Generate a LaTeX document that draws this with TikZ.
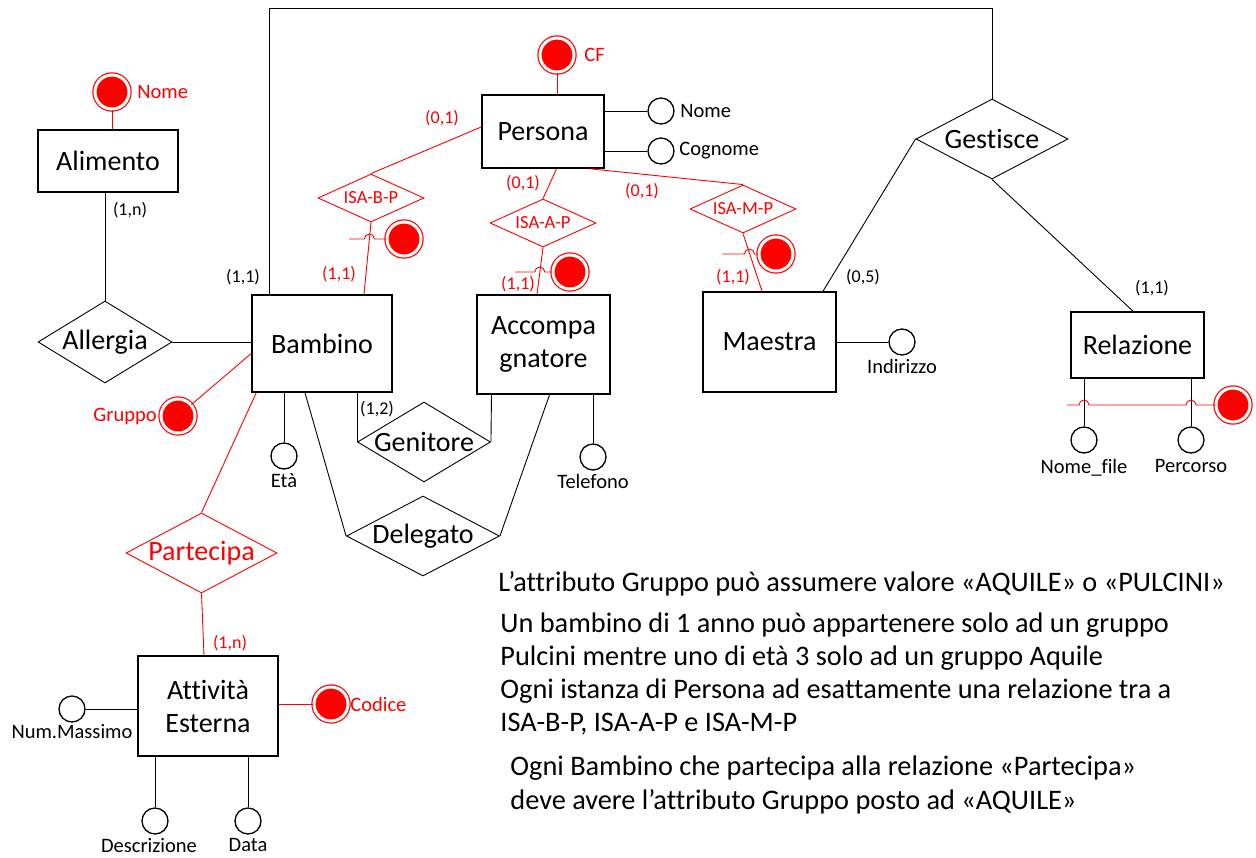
\documentclass[tikz,border=0pt]{standalone}
\usepackage{fontspec}
\setmainfont{Carlito}[Ligatures=NoCommon]
\usetikzlibrary{shapes.geometric}
\usetikzlibrary{positioning}
\newcommand{\bigFont}{\fontsize{28}{33}\selectfont}
\newcommand{\noteFont}{\fontsize{28.3}{33}\selectfont}
\newcommand{\attrFont}{\fontsize{20.5}{24}\selectfont}
\newcommand{\cardFont}{\fontsize{18}{21}\selectfont}
\newcommand{\isaFont}{\fontsize{18.5}{22}\selectfont}
\tikzset{
  entity/.style={draw, line width=1.6pt, font=\bigFont, align=center, inner sep=0pt},
  rel/.style={diamond, draw, inner sep=0pt, label={[font=\bigFont]center:#1}},
  redRel/.style={diamond, draw=red, inner sep=0pt, label={[font=\bigFont, text=red]center:#1}},
  isaRel/.style={diamond, draw=red, inner sep=0pt, minimum width=106pt, minimum height=48pt,
    label={[font=\isaFont, text=red]center:#1}},
  attr/.style={circle, draw, line width=1.3pt, minimum size=26pt, inner sep=0pt},
  idAttr/.style={circle, draw=red, fill=red, double=white, double distance=3pt,
    line width=1.2pt, minimum size=34pt, inner sep=0pt},
  idLabel/.style={text=red, xshift=#1},
  card/.style={font=\cardFont, inner sep=0pt},
  note/.style={font=\noteFont, align=left, anchor=north west, inner sep=0pt}
}

\begin{document}
\begin{tikzpicture}[x=1pt, y=1pt, line width=0.9pt, every label/.append style={font=\attrFont}]
\useasboundingbox (0,0) rectangle (1256,-857);

\node[entity, minimum width=140pt, minimum height=62pt] (alimento) at (108,-161) {Alimento};
\node[entity, minimum width=122pt, minimum height=73pt] (persona) at (543,-131.5) {Persona};
\node[entity, minimum width=140pt, minimum height=97pt] (bambino) at (322,-343.5) {Bambino};
\node[entity, minimum width=133pt, minimum height=99pt] (accomp) at (543.5,-344.5) {Accompa\\gnatore};
\node[entity, minimum width=133pt, minimum height=100pt] (maestra) at (769.5,-342) {Maestra};
\node[entity, minimum width=133pt, minimum height=66pt] (relazione) at (1137.5,-345) {Relazione};
\node[entity, minimum width=140pt, minimum height=100pt] (attivita) at (208,-706) {Attività\\Esterna};

\node[rel=Allergia, minimum width=134pt, minimum height=82pt] (allergia) at (105,-342) {};
\node[rel=Genitore, minimum width=133pt, minimum height=80pt] (genitore) at (424,-442) {};
\node[rel=Delegato, minimum width=153pt, minimum height=80pt] (delegato) at (423,-536) {};
\node[rel=Gestisce, minimum width=152pt, minimum height=80pt] (gestisce) at (992,-139) {};
\node[redRel=Partecipa, minimum width=151pt, minimum height=80pt] (partecipa) at (201.5,-553) {};
\node[isaRel=ISA-B-P] (isaBP) at (371,-198) {};
\node[isaRel=ISA-A-P] (isaAP) at (543,-223) {};
\node[isaRel=ISA-M-P] (isaMP) at (743,-209) {};

\node[attr, label={[xshift=2pt]right:Nome}] (pNome) at (661,-111) {};
\node[attr, label={[xshift=1pt]right:Cognome}] (pCognome) at (661,-151) {};
\node[attr, label=below:Età] (eta) at (284,-456) {};
\node[attr, label=below:Telefono] (telefono) at (593,-457) {};
\node[attr, label=below:Indirizzo] (indirizzo) at (902,-342) {};
\node[attr, label={[yshift=-2pt]below:Nome\_file}] (nomeFile) at (1084,-440) {};
\node[attr, label={[yshift=-2pt]below:Percorso}] (percorso) at (1191,-440) {};
\node[attr, label={[yshift=2pt]below:Num.Massimo}] (numMassimo) at (72,-709) {};
\node[attr, label={[xshift=-6pt]below:Descrizione}] (descrizione) at (155,-821) {};
\node[attr, label=below:Data] (data) at (248,-821) {};

\node[idAttr, label={[idLabel=4pt]right:Nome}] (idAlimento) at (112,-92) {};
\node[idAttr, label={[idLabel=6pt]right:CF}] (idPersona) at (557,-55) {};
\node[idAttr, label={[idLabel=0pt]left:Gruppo}] (idGruppo) at (178,-416) {};
\node[idAttr, label={[idLabel=-2pt]right:Codice}] (idAttivita) at (331,-704) {};
\node[idAttr] (idBP) at (404,-239) {};
\node[idAttr] (idAP) at (570,-272) {};
\node[idAttr] (idMP) at (776,-254) {};
\node[idAttr] (idRelazione) at (1233,-405) {};

\node[card] (cardAlimento) at (130,-210) {(1,n)};
\node[card] (cardBambino) at (243,-277) {(1,1)};
\node[card, text=red] (cardPB) at (442,-118) {(0,1)};
\node[card, text=red] (cardPA) at (523,-183) {(0,1)};
\node[card, text=red] (cardPM) at (642,-191) {(0,1)};
\node[card, text=red] (cardBP) at (339,-274) {(1,1)};
\node[card, text=red] (cardAP) at (518,-284) {(1,1)};
\node[card, text=red] (cardMP) at (733,-277) {(1,1)};
\node[card] (cardMaestra) at (863,-277) {(0,5)};
\node[card] (cardRelazione) at (1152,-288) {(1,1)};
\node[card] (cardGenitore) at (377,-409) {(1,2)};
\node[card, text=red] (cardAttivita) at (230,-643) {(1,n)};

\draw (alimento.south -| allergia.north) -- (allergia.north);
\draw (allergia.east) -- (allergia.east -| bambino.west);
\coordinate (topCorner) at (992,-8);
\draw ([xshift=18pt]bambino.north west) |- (topCorner) -- (gestisce.north);
\draw (gestisce.west) -- ([xshift=53.5pt]maestra.north);
\draw (gestisce.south) -- ([xshift=-4.5pt]relazione.north);
\draw (genitore.west |- bambino.south) -- (genitore.west);
\draw (genitore.east) -- ([xshift=-52pt]accomp.south);
\draw ([xshift=-17pt]bambino.south) -- (delegato.west);
\draw (delegato.east) -- ([xshift=6pt]accomp.south);
\draw (eta |- bambino.south) -- (eta);
\draw (telefono |- accomp.south) -- (telefono);
\draw (maestra.east |- indirizzo) -- (indirizzo);
\draw (persona.east |- pNome) -- (pNome);
\draw (persona.east |- pCognome) -- (pCognome);
\draw (nomeFile |- relazione.south) -- (nomeFile);
\draw (percorso |- relazione.south) -- (percorso);
\draw (attivita.west |- numMassimo) -- (numMassimo);
\draw (descrizione |- attivita.south) -- (descrizione);
\draw (data |- attivita.south) -- (data);

\draw[red] (idAlimento |- alimento.north) -- (idAlimento);
\draw[red] (idPersona |- persona.north) -- (idPersona);
\draw[red] ([yshift=-10pt]bambino.west) -- (idGruppo);
\draw[red] (attivita.east |- idAttivita) -- (idAttivita);
\draw[red] ([xshift=5pt]bambino.south west) -- (partecipa.north);
\draw[red] (partecipa.south) -- ([xshift=-4pt]attivita.north);
\draw[red] ([yshift=4.5pt]persona.west) -- (isaBP.north);
\draw[red] ([xshift=13.5pt]persona.south) -- (isaAP.north);
\draw[red] ([xshift=47pt]persona.south) -- (isaMP.north);
\draw[red] (isaBP.south) -- ([xshift=42pt]bambino.north);
\draw[red] (isaAP.south) -- ([xshift=-6.5pt]accomp.north);
\draw[red] (isaMP.south) -- ([xshift=-7.5pt]maestra.north);

\coordinate (startBP) at (349,-239);
\coordinate (hopBP) at (369.4,-239);
\draw[red] (startBP) -- ([xshift=-5pt]hopBP) arc[start angle=180, end angle=0, radius=5pt] -- (idBP);
\coordinate (startAP) at (515,-272);
\coordinate (hopAP) at (539.8,-272);
\draw[red] (startAP) -- ([xshift=-5pt]hopAP) arc[start angle=180, end angle=0, radius=5pt] -- (idAP);
\coordinate (startMP) at (722,-254);
\coordinate (hopMP) at (749.5,-254);
\draw[red] (startMP) -- ([xshift=-5pt]hopMP) arc[start angle=180, end angle=0, radius=5pt] -- (idMP);
\coordinate (startRel) at (1067,-405);
\coordinate (hopRelA) at (1084,-405);
\coordinate (hopRelB) at (1191,-405);
\draw[red] (startRel) -- ([xshift=-5pt]hopRelA) arc[start angle=180, end angle=0, radius=5pt]
  -- ([xshift=-5pt]hopRelB) arc[start angle=180, end angle=0, radius=5pt] -- (idRelazione);

\node[note] (note1) at (498,-571) {L’attributo Gruppo può assumere valore «AQUILE» o «PULCINI»};
\node[note] (note2) at (500,-612) {Un bambino di 1 anno può appartenere solo ad un gruppo\\
  Pulcini mentre uno di età 3 solo ad un gruppo Aquile\\
  Ogni istanza di Persona ad esattamente una relazione tra a\\
  ISA-B-P, ISA-A-P e ISA-M-P};
\node[note, font=\fontsize{28.3}{34}\selectfont] (note3) at (510,-755) {Ogni Bambino che partecipa alla relazione «Partecipa»\\
  deve avere l’attributo Gruppo posto ad «AQUILE»};
\end{tikzpicture}
\end{document}
